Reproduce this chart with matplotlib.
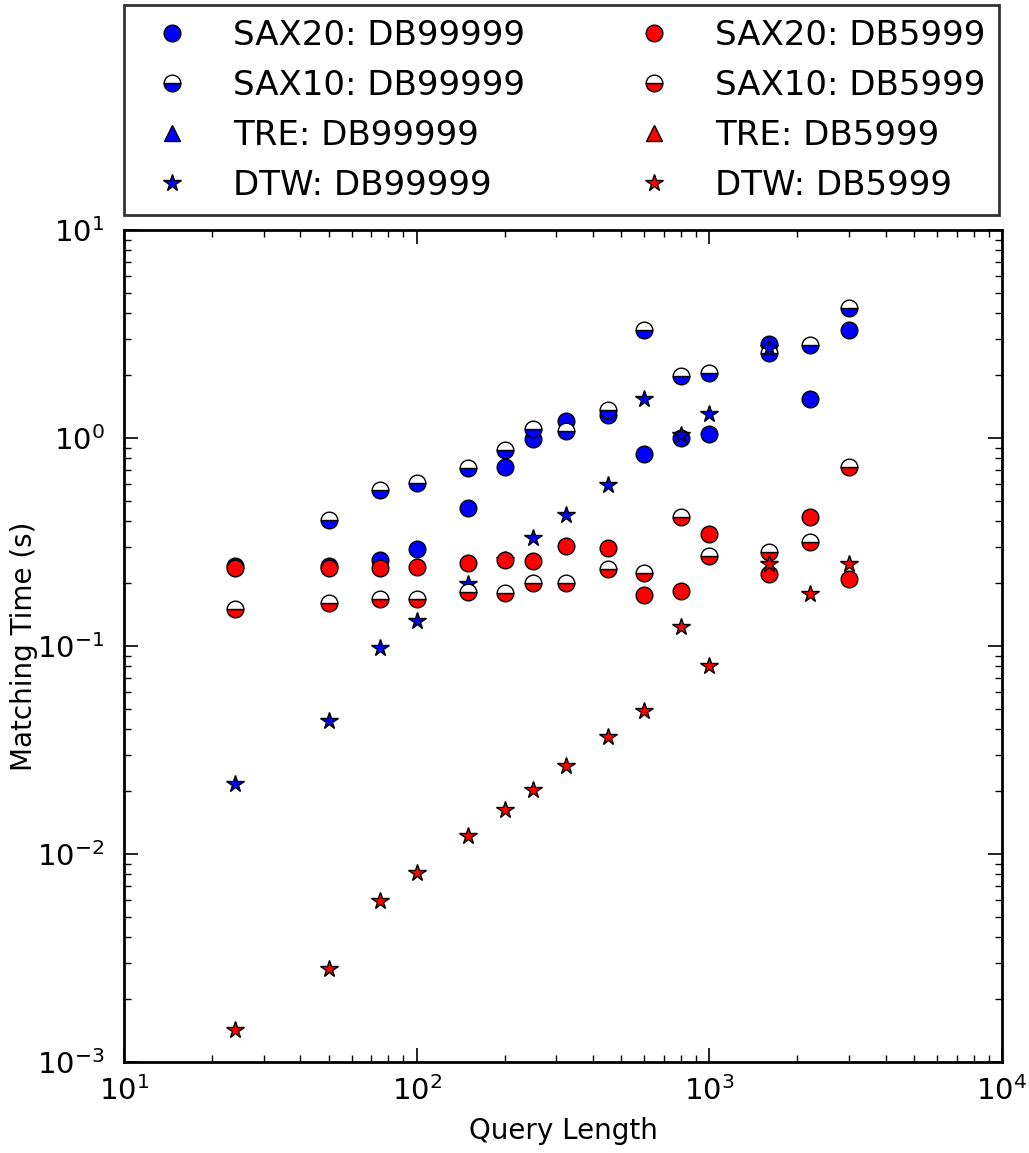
import numpy as np
import matplotlib
matplotlib.use("Agg")
import matplotlib.pyplot as plt

nan = np.nan
query_length = [24, 50, 75, 100, 150, 200, 250, 325, 450, 600, 800, 1000, 1600, 2200, 3000]

sax20_db99999 = [0.242, 0.242, 0.259, 0.292, 0.46, 0.726, 0.99, 1.21, 1.29, 0.838, 1.0, 1.05, 2.83, 1.54, 3.30]
sax10_db99999 = [nan, 0.404, 0.5625, 0.608, 0.718, 0.875, 1.10, 1.08, 1.36, 3.30, 1.99, 2.05, 2.56, 2.80, 4.22]
tre_db99999 = [nan] * 15
dtw_db99999 = [0.0217, 0.0435, 0.0977, 0.132, 0.199, 0.26, 0.33, 0.427, 0.594, 1.54, 1.03, 1.30, 2.71, nan, nan]

sax20_db5999 = [0.237, 0.238, 0.238, 0.24, 0.25, 0.259, 0.256, 0.303, 0.296, 0.176, 0.184, 0.345, 0.222, 0.417, 0.210]
sax10_db5999 = [0.151, 0.161, 0.168, 0.168, 0.182, 0.18, 0.201, 0.201, 0.234, 0.224, 0.417, 0.271, 0.283, 0.316, 0.726]
tre_db5999 = [nan] * 15
dtw_db5999 = [0.00143, 0.0028, 0.00594, 0.0081, 0.0122, 0.0163, 0.0203, 0.0265, 0.0365, 0.0487, 0.123, 0.080, 0.248, 0.178, 0.248]

labels = ["SAX20: DB99999", "SAX10: DB99999", "TRE: DB99999", "DTW: DB99999",
          "SAX20: DB5999", "SAX10: DB5999", "TRE: DB5999", "DTW: DB5999"]

plt.rcParams['font.family'] = ['DejaVu Sans']
plt.rcParams['mathtext.fontset'] = 'dejavusans'

fig = plt.figure(figsize=(10.29, 11.53), dpi=100)
ax = fig.add_axes([124/1029, 1 - 1062/1153, 878/1029, 832/1153])

common = dict(linestyle='none', markeredgecolor='black', markeredgewidth=1.0)
handles = []
for color, s20, s10, tre, dtw in [('#0000ff', sax20_db99999, sax10_db99999, tre_db99999, dtw_db99999),
                                   ('#ff0000', sax20_db5999, sax10_db5999, tre_db5999, dtw_db5999)]:
    h1, = ax.plot(query_length, s20, marker='o', markersize=12, markerfacecolor=color, **common)
    h2, = ax.plot(query_length, s10, marker='o', markersize=12, markerfacecolor=color,
                  fillstyle='bottom', markerfacecoloralt='white', **common)
    h3, = ax.plot(query_length, tre, marker='^', markersize=12, markerfacecolor=color, **common)
    h4, = ax.plot(query_length, dtw, marker='*', markersize=13, markerfacecolor=color, **common)
    handles += [h1, h2, h3, h4]

ax.set_xscale('log')
ax.set_yscale('log')
ax.set_xlim(10, 1e4)
ax.set_ylim(1e-3, 10)
ax.set_xlabel('Query Length', fontsize=20, labelpad=8)
ax.set_ylabel('Matching Time (s)', fontsize=20)
ax.yaxis.set_label_coords(-0.098, 0.5)
ax.tick_params(which='both', direction='in', top=True, right=True, labelsize=21)
ax.tick_params(which='major', length=10, width=1.2)
ax.tick_params(which='minor', length=5, width=1)
ax.tick_params(axis='x', pad=10)
ax.tick_params(axis='y', pad=14)
for sp in ax.spines.values():
    sp.set_linewidth(2)

leg = fig.legend(handles, labels, ncol=2, loc='upper left',
                 bbox_to_anchor=(124/1029, 1 - 5/1153),
                 fontsize=24.5, markerscale=1.0, numpoints=1, frameon=True,
                 fancybox=False, borderaxespad=0, borderpad=0.4,
                 handlelength=2.0, handletextpad=0.8, labelspacing=0.5,
                 columnspacing=2.8)
leg.get_frame().set_edgecolor('black')
leg.get_frame().set_linewidth(2)

fig.savefig('out.png', dpi=100, facecolor='white')
